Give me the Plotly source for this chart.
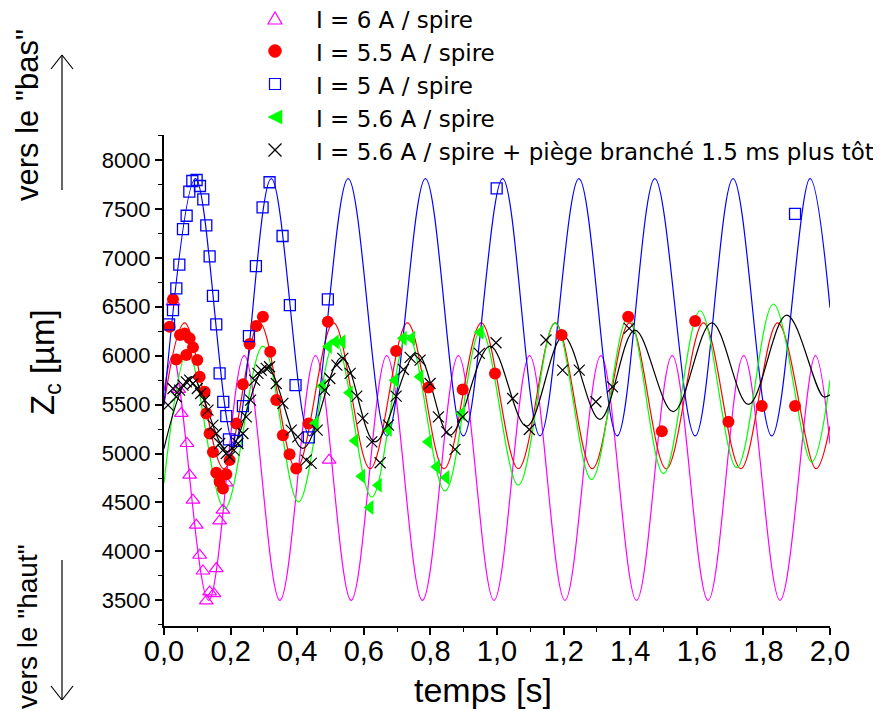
import plotly.graph_objects as go

# ---------------- measured points ----------------
t_6A = [0.027, 0.044, 0.052, 0.069, 0.077, 0.087, 0.097, 0.107, 0.117, 0.127, 0.137, 0.150, 0.157, 0.167, 0.177, 0.187, 0.496]
z_6A = [6550, 5655, 5410, 5103, 4779, 4524, 4268, 3961, 3800, 3494, 3586, 3569, 3825, 4312, 4421, 4700, 4933]

t_55A = [0.017, 0.027, 0.037, 0.048, 0.062, 0.077, 0.067, 0.087, 0.100, 0.107, 0.122, 0.127, 0.137, 0.147,
         0.157, 0.167, 0.177, 0.187, 0.197, 0.217, 0.237, 0.257, 0.277, 0.297, 0.319, 0.337, 0.357, 0.377,
         0.397, 0.434, 0.492, 0.697, 0.794, 0.897, 0.994, 1.194, 1.394, 1.495, 1.595, 1.695, 1.795, 1.895]
z_55A = [6296, 6576, 5962, 6211, 6228, 6177, 6006, 6085, 5955, 5785, 5631, 5410, 5205, 5017,
         4803, 4711, 4643, 4789, 4933, 5308, 5707, 6119, 6303, 6398, 6040, 5546, 5188, 4994,
         4847, 5308, 6347, 6047, 5676, 5655, 5819, 6211, 6398, 5229, 6354, 5326, 5485, 5485]

t_5A = [0.015, 0.027, 0.037, 0.046, 0.057, 0.068, 0.076, 0.085, 0.098, 0.108, 0.118, 0.127, 0.137, 0.147,
        0.157, 0.167, 0.178, 0.187, 0.195, 0.219, 0.237, 0.255, 0.276, 0.296, 0.317, 0.356, 0.378, 0.395,
        0.435, 0.492, 0.999, 1.895]
z_5A = [6320, 6466, 6688, 6930, 7294, 7430, 7676, 7785, 7795, 7734, 7598, 7332, 7015, 6612,
        6320, 5819, 5529, 5382, 5144, 5130, 5485, 6200, 6916, 7516, 7772, 7223, 6517, 5699,
        5165, 6576, 7710, 7450]

t_56A = [0.455, 0.476, 0.494, 0.515, 0.535, 0.557, 0.574, 0.594, 0.619, 0.644, 0.674, 0.694, 0.719, 0.744,
         0.769, 0.794, 0.819, 0.847, 0.894, 0.950]
z_56A = [5310, 5690, 6095, 6142, 6142, 5621, 5130, 4769, 4449, 4677, 5246, 5750, 6177, 6177,
         5785, 5120, 4864, 4756, 5410, 6240]

t_piege = [0.012, 0.027, 0.037, 0.047, 0.057, 0.067, 0.077, 0.087, 0.100, 0.110, 0.122, 0.132, 0.147, 0.157,
           0.167, 0.177, 0.187, 0.197, 0.210, 0.222, 0.237, 0.247, 0.260, 0.272, 0.282, 0.292, 0.307, 0.317,
           0.337, 0.357, 0.382, 0.402, 0.427, 0.442, 0.460, 0.482, 0.498, 0.519, 0.537, 0.559, 0.579, 0.597,
           0.624, 0.649, 0.674, 0.697, 0.719, 0.739, 0.769, 0.799, 0.824, 0.849, 0.874, 0.897, 0.947, 0.997,
           1.047, 1.097, 1.147, 1.197, 1.247, 1.297, 1.347, 1.397]
z_piege = [5495, 5665, 5580, 5648, 5699, 5733, 5750, 5716, 5665, 5614, 5546, 5444, 5290, 5205,
           5103, 5035, 5001, 4966, 5035, 5103, 5205, 5375, 5546, 5750, 5819, 5853, 5870, 5887,
           5716, 5512, 5239, 5171, 4933, 4899, 5239, 5648, 5767, 5904, 5972, 5819, 5587, 5359,
           5120, 4906, 5290, 5587, 5859, 5982, 5955, 5716, 5375, 5222, 5042, 5375, 6023, 6132,
           5563, 5246, 6160, 5853, 5853, 5529, 5682, 6279]

# ---------------- fitted curves: key points (extrema) ----------------
fit_6A_t = [0.0, 0.027, 0.134, 0.241, 0.348, 0.455, 0.562, 0.669, 0.776, 0.884, 0.991, 1.098, 1.204,
            1.312, 1.419, 1.526, 1.634, 1.741, 1.850, 1.956, 2.0]
fit_6A_z = [5640, 6000, 3500, 6000, 3500, 6000, 3500, 6000, 3500, 6000, 3500, 6000, 3500,
            6000, 3500, 6000, 3500, 6000, 3500, 6000, 5100]

fit_55A_t = [0.0, 0.062, 0.180, 0.287, 0.397, 0.509, 0.619, 0.731, 0.841, 0.953, 1.064, 1.175, 1.286,
             1.398, 1.508, 1.620, 1.732, 1.843, 1.958, 2.0]
fit_55A_z = [5500, 6336, 4845, 6336, 4845, 6336, 4845, 6336, 4845, 6336, 4845, 6336, 4845,
             6336, 4845, 6336, 4845, 6336, 4845, 5280]

fit_5A_t = [0.0, 0.095, 0.210, 0.322, 0.437, 0.553, 0.669, 0.785, 0.899, 1.017, 1.129, 1.246, 1.361,
            1.474, 1.595, 1.709, 1.825, 1.940, 2.0]
fit_5A_z = [5500, 7810, 5100, 7810, 5180, 7810, 5180, 7810, 5180, 7810, 5180, 7810, 5180,
            7810, 5180, 7810, 5180, 7810, 6490]

fit_56A_t = [0.0, 0.072, 0.182, 0.297, 0.404, 0.514, 0.624, 0.732, 0.844, 0.952, 1.064, 1.174, 1.284,
             1.394, 1.500, 1.610, 1.720, 1.830, 1.945, 2.0]
fit_56A_z = [4700, 6040, 4438, 6098, 4506, 6150, 4556, 6211, 4618, 6262, 4677, 6336, 4735,
             6398, 4796, 6459, 4858, 6528, 4915, 5750]

fit_piege_t = [0.0, 0.082, 0.192, 0.307, 0.417, 0.534, 0.634, 0.759, 0.859, 0.979, 1.089, 1.199, 1.309,
               1.414, 1.529, 1.645, 1.755, 1.870, 1.980, 2.0]
fit_piege_z = [5050, 5785, 5018, 5886, 5052, 5982, 5120, 6023, 5188, 6098, 5280, 6200, 5349,
               6262, 5428, 6336, 5502, 6415, 5580, 5600]

x_tickvals = [0.0, 0.2, 0.4, 0.6, 0.8, 1.0, 1.2, 1.4, 1.6, 1.8, 2.0]
x_ticktext = ["0,0", "0,2", "0,4", "0,6", "0,8", "1,0", "1,2", "1,4", "1,6", "1,8", "2,0"]
y_tickvals = [3500, 4000, 4500, 5000, 5500, 6000, 6500, 7000, 7500, 8000]

names = ["I = 6 A / spire", "I = 5.5 A / spire", "I = 5 A / spire", "I = 5.6 A / spire",
         "I = 5.6 A / spire + piège branché 1.5 ms plus tôt"]
colors = ["#FF00FF", "#FF0000", "#0000FF", "#00FF00", "#000000"]

fig = go.Figure()

fits = [(fit_6A_t, fit_6A_z), (fit_55A_t, fit_55A_z), (fit_5A_t, fit_5A_z),
        (fit_56A_t, fit_56A_z), (fit_piege_t, fit_piege_z)]
for (ft, fz), c in zip(fits, colors):
    fig.add_trace(go.Scatter(x=ft, y=fz, mode="lines", line=dict(color=c, width=1.2, shape="spline", smoothing=1),
                             showlegend=False, hoverinfo="skip"))

data = [(t_6A, z_6A), (t_55A, z_55A), (t_5A, z_5A), (t_56A, z_56A), (t_piege, z_piege)]
markers = [
    dict(symbol="triangle-up-open", size=12, color=colors[0], line=dict(width=1.2, color=colors[0])),
    dict(symbol="circle", size=12, color=colors[1], line=dict(width=0)),
    dict(symbol="square-open", size=11, color=colors[2], line=dict(width=1.3, color=colors[2])),
    dict(symbol="triangle-left", size=13, color=colors[3], line=dict(width=0)),
    dict(symbol="x-thin-open", size=11, color=colors[4], line=dict(width=1.2, color=colors[4])),
]
for i, ((dt, dz), m) in enumerate(zip(data, markers)):
    fig.add_trace(go.Scatter(x=dt, y=dz, mode="markers", marker=m, name=names[i], showlegend=False))

font = "Liberation Sans, Arial, sans-serif"
lfont = "DejaVu Sans, Verdana, sans-serif"

# page body has an 8px margin: the figure is offset by 8px, so it is sized 8px smaller
OFF = 8
W, H = 666.0, 491.0
def px(x):
    return (x - 164) / W
def py(y):
    return (626 - y) / H

fig.update_layout(
    template="none",
    width=881 - OFF, height=711 - OFF,
    margin=dict(l=164 - OFF, r=51, t=135 - OFF, b=85, pad=0),
    paper_bgcolor="white", plot_bgcolor="white",
    font=dict(family=font, color="black"),
    showlegend=False,
    xaxis=dict(range=[0, 2.0], automargin=False, showgrid=False, zeroline=False, showline=True,
               linecolor="black", linewidth=2, mirror=False,
               ticks="outside", ticklen=7, tickwidth=1.5, tickcolor="black",
               tickvals=x_tickvals, ticktext=x_ticktext, ticklabelstandoff=-9,
               tickfont=dict(size=29, family="Liberation Sans Narrow, Arial Narrow, sans-serif"),
               minor=dict(dtick=0.1, ticks="outside", ticklen=4, tickwidth=1.2, tickcolor="black", showgrid=False)),
    yaxis=dict(range=[3238, 8255], automargin=False, showgrid=False, zeroline=False, showline=True,
               linecolor="black", linewidth=2, mirror=False,
               ticks="outside", ticklen=7, tickwidth=1.5, tickcolor="black",
               tickvals=y_tickvals, tickfont=dict(size=22, family=font),
               minor=dict(dtick=250, tick0=0, ticks="outside", ticklen=4, tickwidth=1.2, tickcolor="black", showgrid=False)),
)

# ---------- legend (drawn as key: symbol + label) ----------
row_y = [18, 51, 84, 117, 150]
sx = 275
for name, yy in zip(names, row_y):
    fig.add_annotation(text=name, xref="paper", yref="paper", x=px(314), y=py(yy + 2),
                       showarrow=False, font=dict(size=23, family=lfont), xanchor="left", yanchor="middle")

def pl(x0, y0, x1, y1, c, w=1.2):
    fig.add_shape(type="line", xref="paper", yref="paper", x0=px(x0), x1=px(x1), y0=py(y0), y1=py(y1),
                  line=dict(color=c, width=w))

def path(points, c, fill):
    d = "M " + " L ".join(f"{px(a):.5f},{py(b):.5f}" for a, b in points) + " Z"
    fig.add_shape(type="path", xref="paper", yref="paper", path=d,
                  line=dict(color=c, width=1.2 if not fill else 0.5), fillcolor=c if fill else "rgba(0,0,0,0)")

y0 = row_y[0]
path([(sx - 7, y0 + 6), (sx + 7, y0 + 6), (sx, y0 - 6)], colors[0], False)
y1 = row_y[1]
fig.add_shape(type="circle", xref="paper", yref="paper", x0=px(sx - 6.5), x1=px(sx + 6.5), y0=py(y1 + 6.5), y1=py(y1 - 6.5),
              line=dict(color=colors[1], width=0.5), fillcolor=colors[1])
y2 = row_y[2]
path([(sx - 5.5, y2 - 5.5), (sx + 5.5, y2 - 5.5), (sx + 5.5, y2 + 5.5), (sx - 5.5, y2 + 5.5)], colors[2], False)
y3 = row_y[3]
path([(sx - 7, y3), (sx + 7, y3 - 7), (sx + 7, y3 + 7)], colors[3], True)
y4 = row_y[4]
pl(sx - 6.5, y4 - 6.5, sx + 6.5, y4 + 6.5, colors[4])
pl(sx - 6.5, y4 + 6.5, sx + 6.5, y4 - 6.5, colors[4])

# ---------- titles ----------
fig.add_annotation(text="temps [s]", xref="paper", yref="paper", x=px(483), y=py(690),
                   showarrow=False, font=dict(size=34, family=font), xanchor="center", yanchor="middle")
fig.add_annotation(text="Z<sub>c</sub> [µm]", xref="paper", yref="paper", x=px(45), y=py(362),
                   textangle=-90, showarrow=False, font=dict(size=33, family=font), xanchor="center", yanchor="middle")
fig.add_annotation(text='vers le "bas"', xref="paper", yref="paper", x=px(27), y=py(115),
                   textangle=-90, showarrow=False, font=dict(size=31, family=font), xanchor="center", yanchor="middle")
fig.add_annotation(text='vers le "haut"', xref="paper", yref="paper", x=px(27), y=py(627),
                   textangle=-90, showarrow=False, font=dict(size=28, family=font), xanchor="center", yanchor="middle")

# arrows
def add_arrow(x0, y_tail, y_head):
    d = 1 if y_head > y_tail else -1
    pl(x0, y_tail, x0, y_head, "black")
    pl(x0 - 11, y_head - d * 14, x0, y_head, "black")
    pl(x0 + 11, y_head - d * 14, x0, y_head, "black")

add_arrow(62, 190, 55)
add_arrow(62, 560, 700)

fig.write_html("out.html")
